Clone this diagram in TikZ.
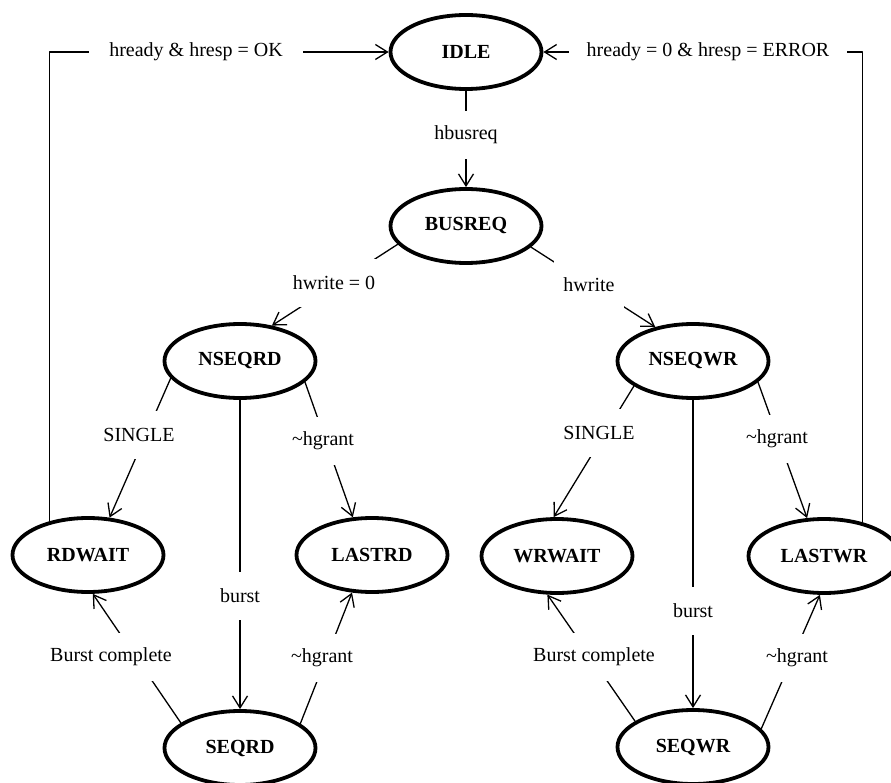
\documentclass[tikz,border=0pt]{standalone}
\usepackage{fontspec}
\setmainfont{Liberation Serif}
\usetikzlibrary{arrows.meta,shapes.geometric}

\begin{document}
\begin{tikzpicture}[line cap=round,line join=round,>={Straight Barb[length=12pt,width=15pt]},x=1pt,y=-1pt,
         state/.style={ellipse,draw=black,line width=3.8pt,minimum width=151pt,minimum height=74pt,font=\fontsize{20}{24}\selectfont\bfseries},
         lbl/.style={fill=white,inner xsep=9pt,minimum height=48pt,font=\fontsize{20}{24}\selectfont},
         wire/.style={draw=black,line width=1.3pt}]
         \useasboundingbox (0,0) rectangle (891,783);

         \node[state] (idle) at (466,52) {IDLE};
         \node[state] (busreq) at (466,226) {BUSREQ};
         \node[state] (nseqrd) at (240,361) {NSEQRD};
         \node[state] (nseqwr) at (693,361) {NSEQWR};
         \node[state] (rdwait) at (88,555) {RDWAIT};
         \node[state] (lastrd) at (372,555) {LASTRD};
         \node[state] (wrwait) at (557,556) {WRWAIT};
         \node[state] (lastwr) at (824,556) {LASTWR};
         \node[state] (seqrd) at (240,748) {SEQRD};
         \node[state] (seqwr) at (693,747) {SEQWR};

         \draw[wire,->] (idle.south) -- (busreq.north);
         \draw[wire,->] (busreq.195) -- (nseqrd.48);
         \draw[wire,->] (busreq.342) -- (nseqwr.138);
         \draw[wire,->] (nseqrd.194) -- (rdwait.60);
         \draw[wire,->] (nseqrd.342) -- (lastrd.117);
         \draw[wire,->] (nseqrd.south) -- (seqrd.north);
         \draw[wire,->] (seqrd.157) -- (rdwait.277);
         \draw[wire,->] (seqrd.22) -- (lastrd.242);
         \draw[wire,->] (nseqwr.203) -- (wrwait.95);
         \draw[wire,->] (nseqwr.342) -- (lastwr.114);
         \draw[wire,->] (nseqwr.south) -- (seqwr.north);
         \draw[wire,->] (seqwr.156) -- (wrwait.256);
         \draw[wire,->] (seqwr.15) -- (lastwr.264);
         \draw[wire,->] (rdwait.139) |- (idle.west);
         \draw[wire,->] (lastwr.41) |- (idle.east);

         \node[lbl] (lbusreq) at (466,135) {hbusreq};
         \node[lbl] (lwrzero) at (334,283) {hwrite = 0};
         \node[lbl] (lwrite) at (589,285) {hwrite};
         \node[lbl] (lsinglerd) at (139,435) {SINGLE};
         \node[lbl] (lgrantrd) at (323,441) {\textasciitilde hgrant};
         \node[lbl] (lburstrd) at (240,596) {burst};
         \node[lbl] (ldonerd) at (111,657) {Burst complete};
         \node[lbl] (lseqgrantrd) at (322,658) {\textasciitilde hgrant};
         \node[lbl] (lsinglewr) at (599,433) {SINGLE};
         \node[lbl] (lgrantwr) at (777,439) {\textasciitilde hgrant};
         \node[lbl] (lburstwr) at (693,611) {burst};
         \node[lbl] (ldonewr) at (594,657) {Burst complete};
         \node[lbl] (lseqgrantwr) at (797,658) {\textasciitilde hgrant};
         \node[lbl,inner xsep=20pt] (lokay) at (196,52) {hready \& hresp = OK};
         \node[lbl,inner xsep=18pt] (lerror) at (708,52) {hready = 0 \& hresp = ERROR};
\end{tikzpicture}
\end{document}
